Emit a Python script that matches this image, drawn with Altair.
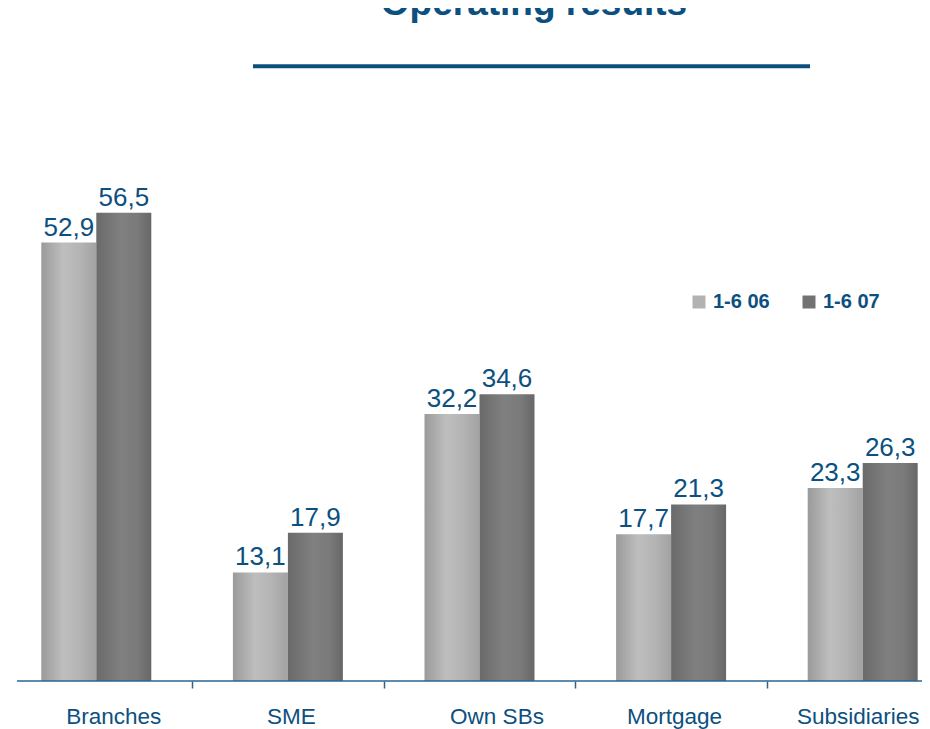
import altair as alt
import pandas as pd

categories = ["Branches", "SME", "Own SBs", "Mortgage", "Subsidiaries"]
series = ["1-6 06", "1-6 07"]
values_06 = [52.9, 13.1, 32.2, 17.7, 23.3]
values_07 = [56.5, 17.9, 34.6, 21.3, 26.3]
title_text = "Operating results"

rows = []
for c, a, b in zip(categories, values_06, values_07):
    rows.append({"cat": c, "series": series[0], "value": a})
    rows.append({"cat": c, "series": series[1], "value": b})
df = pd.DataFrame(rows)

BLUE = "#0b5080"
FONT = "Liberation Sans"

W, H = 914, 673

x_enc = alt.X(
    "cat:N",
    sort=categories,
    scale=alt.Scale(domain=categories, range=[-7.5, 950.5], paddingInner=0, paddingOuter=0),
    axis=alt.Axis(
        title=None,
        domain=False,
        tickBand="extent",
        tickSize=7,
        tickWidth=1.5,
        tickColor="#2a6590",
        labelFont=FONT,
        labelFontSize=22.5,
        labelColor=BLUE,
        labelBaseline="alphabetic",
        labelPadding=35,
        labelAngle=0,
        labelOffset={
            "condition": [
                {"test": "datum.value == 'Branches' || datum.value == 'Own SBs'", "value": 17},
                {"test": "datum.value == 'Subsidiaries'", "value": -5},
            ],
            "value": 3,
        },
    ),
)
xo_enc = alt.XOffset("series:N", scale=alt.Scale(domain=series, paddingInner=0, paddingOuter=0.742))
y_enc = alt.Y("value:Q", scale=alt.Scale(domain=[0, 81.2], nice=False, zero=True), axis=None)

grad06 = alt.LinearGradient(
    gradient="linear", x1=0, x2=1, y1=0, y2=0,
    stops=[
        alt.GradientStop(color="#9a9a9a", offset=0),
        alt.GradientStop(color="#bebebe", offset=0.4),
        alt.GradientStop(color="#b4b4b4", offset=0.7),
        alt.GradientStop(color="#a2a2a2", offset=1),
    ],
)
grad07 = alt.LinearGradient(
    gradient="linear", x1=0, x2=1, y1=0, y2=0,
    stops=[
        alt.GradientStop(color="#6a6a6a", offset=0),
        alt.GradientStop(color="#808080", offset=0.45),
        alt.GradientStop(color="#7a7a7a", offset=0.75),
        alt.GradientStop(color="#676767", offset=1),
    ],
)

base = alt.Chart(df)

bars06 = base.transform_filter(alt.datum.series == series[0]).mark_bar(fill=grad06).encode(
    x=x_enc, xOffset=xo_enc, y=y_enc
)
bars07 = base.transform_filter(alt.datum.series == series[1]).mark_bar(fill=grad07).encode(
    x=x_enc, xOffset=xo_enc, y=y_enc
)

labels = base.transform_calculate(
    lbl="replace(format(datum.value, '.1f'), '.', ',')"
).mark_text(font=FONT, fontSize=26, color=BLUE, baseline="alphabetic", dy=-7).encode(
    x=x_enc, xOffset=xo_enc, y=y_enc, text="lbl:N"
)

legend_layer = base.mark_square(opacity=0).encode(
    color=alt.Color(
        "series:N",
        scale=alt.Scale(domain=series, range=["#b2b2b2", "#727272"]),
        legend=alt.Legend(
            title=None,
            orient="none",
            legendX=681,
            legendY=284,
            direction="horizontal",
            columns=2,
            columnPadding=29,
            padding=0,
            symbolType="square",
            symbolSize=169,
            symbolOpacity=1,
            symbolStrokeWidth=0,
            labelFont=FONT,
            labelFontSize=20,
            labelFontWeight="bold",
            labelColor=BLUE,
            labelOffset=4,
        ),
    )
)

one = alt.Data(values=[{"t": title_text}])

baseline_rule = alt.Chart(one).mark_rule(color="#2a6590", strokeWidth=1.5).encode(
    x=alt.value(9), x2=alt.value(W), y=alt.value(H)
)
title_mark = alt.Chart(one).mark_text(
    font=FONT, fontSize=37, fontWeight="bold", color=BLUE, baseline="alphabetic", align="center"
).encode(x=alt.value(526), y=alt.value(7), text="t:N")
underline = alt.Chart(one).mark_rule(color="#0b4f7d", strokeWidth=4).encode(
    x=alt.value(245), x2=alt.value(802), y=alt.value(58.3)
)

chart = alt.layer(
    bars06, bars07, labels, legend_layer, baseline_rule, title_mark, underline
).properties(
    width=W, height=H,
    background="white",
    autosize=alt.AutoSizeParams(type="none"),
    padding={"left": 0, "top": 0, "right": 0, "bottom": 48},
).configure_view(stroke=None)

chart.save("out.html", embed_options={"renderer": "svg", "actions": False})
